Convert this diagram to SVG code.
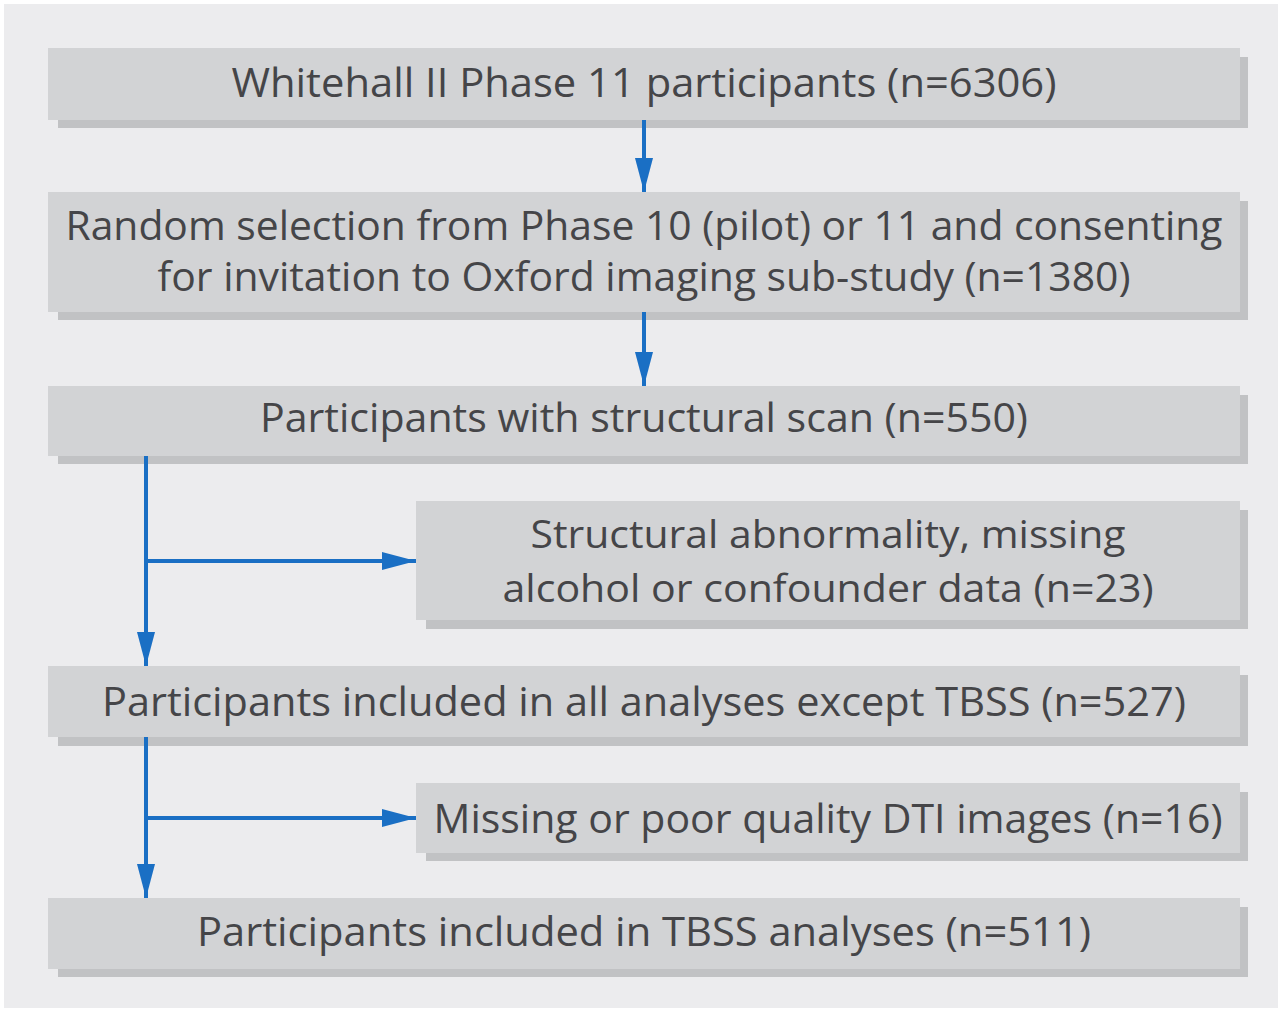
<svg xmlns="http://www.w3.org/2000/svg" width="1282" height="1012" viewBox="0 0 1282 1012">
<style>
.bx{fill:#d2d3d5}
.sh{fill:#c1c2c4}
.t{font-family:"Open Sans","Noto Sans","DejaVu Sans",sans-serif;font-size:41px;fill:#454548;text-anchor:middle}
.t2{font-size:39px}
.ln{stroke:#1a6fc4;stroke-width:4;fill:none}
</style>
<defs>
<marker id="ah" markerUnits="userSpaceOnUse" markerWidth="34" markerHeight="20" refX="34" refY="10" orient="auto" viewBox="0 0 34 20">
<path d="M0,1 L34,10 L0,19 Z" fill="#1a6fc4"/>
</marker>
</defs>
<rect x="0" y="0" width="1282" height="1012" fill="#ffffff"/>
<rect x="4" y="4" width="1274" height="1004" fill="#ececee"/>

<g id="n1">
<rect class="sh" x="58" y="57" width="1190" height="71"/>
<rect class="bx" x="48" y="48" width="1192" height="72"/>
<text class="t" x="644" y="97" textLength="825" lengthAdjust="spacingAndGlyphs">Whitehall II Phase 11 participants (n=6306)</text>
</g>
<g id="n2">
<rect class="sh" x="58" y="201" width="1190" height="119"/>
<rect class="bx" x="48" y="192" width="1192" height="120"/>
<text class="t"><tspan x="644" y="240" textLength="1157" lengthAdjust="spacingAndGlyphs">Random selection from Phase 10 (pilot) or 11 and consenting</tspan><tspan x="644" y="291" textLength="973" lengthAdjust="spacingAndGlyphs">for invitation to Oxford imaging sub-study (n=1380)</tspan></text>
</g>
<g id="n3">
<rect class="sh" x="58" y="395" width="1190" height="69"/>
<rect class="bx" x="48" y="386" width="1192" height="70"/>
<text class="t" x="644" y="432" textLength="768" lengthAdjust="spacingAndGlyphs">Participants with structural scan (n=550)</text>
</g>
<g id="n4">
<rect class="sh" x="426" y="510" width="822" height="119"/>
<rect class="bx" x="416" y="501" width="824" height="119"/>
<text class="t t2"><tspan x="828" y="548" textLength="595" lengthAdjust="spacingAndGlyphs">Structural abnormality, missing</tspan><tspan x="828" y="602" textLength="651" lengthAdjust="spacingAndGlyphs">alcohol or confounder data (n=23)</tspan></text>
</g>
<g id="n5">
<rect class="sh" x="58" y="675" width="1190" height="71"/>
<rect class="bx" x="48" y="666" width="1192" height="71"/>
<text class="t" x="644" y="716" textLength="1084" lengthAdjust="spacingAndGlyphs">Participants included in all analyses except TBSS (n=527)</text>
</g>
<g id="n6">
<rect class="sh" x="426" y="792" width="822" height="69"/>
<rect class="bx" x="416" y="783" width="824" height="70"/>
<text class="t" x="828" y="833" textLength="789" lengthAdjust="spacingAndGlyphs">Missing or poor quality DTI images (n=16)</text>
</g>
<g id="n7">
<rect class="sh" x="58" y="907" width="1190" height="70"/>
<rect class="bx" x="48" y="898" width="1192" height="71"/>
<text class="t" x="644" y="946" textLength="894" lengthAdjust="spacingAndGlyphs">Participants included in TBSS analyses (n=511)</text>
</g>

<g id="connectors">
<line class="ln" x1="644" y1="120" x2="644" y2="192" marker-end="url(#ah)"/>
<line class="ln" x1="644" y1="312" x2="644" y2="386" marker-end="url(#ah)"/>
<line class="ln" x1="146" y1="456" x2="146" y2="666" marker-end="url(#ah)"/>
<line class="ln" x1="144" y1="561" x2="416" y2="561" marker-end="url(#ah)"/>
<line class="ln" x1="146" y1="737" x2="146" y2="898" marker-end="url(#ah)"/>
<line class="ln" x1="144" y1="818" x2="416" y2="818" marker-end="url(#ah)"/>
</g>
</svg>
